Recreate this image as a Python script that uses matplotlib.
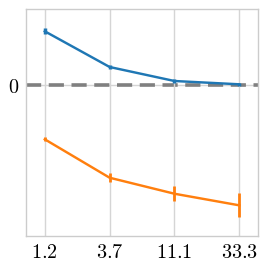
import numpy as np
import matplotlib
matplotlib.use("Agg")
import matplotlib.pyplot as plt

plt.rcParams['mathtext.fontset'] = 'cm'

ratios = [1.2, 3.7, 11.1, 33.3]
tick_labels = ['1.2', '3.7', '11.1', '33.3']
blue_vals = [0.537, 0.18, 0.04, 0.007]
blue_err = [0.028, 0.022, 0.017, 0.014]
orange_vals = [-0.543, -0.927, -1.087, -1.203]
orange_err = [0.02, 0.045, 0.075, 0.12]

fig = plt.figure(figsize=(2.68, 2.71), dpi=100)
ax = fig.add_axes([0.097, 0.129, 0.866, 0.836])

x = np.arange(len(ratios))

ax.grid(True, axis='x', color='#d5d5d5', linewidth=1.0, zorder=0)
ax.axhline(0, color='#d5d5d5', linewidth=1.0, zorder=0)
ax.axhline(0, color='#808080', linewidth=2.6, dashes=(4.2, 2.1), zorder=1)

ax.errorbar(x, blue_vals, yerr=blue_err, color='#1f77b4', linewidth=1.75,
            elinewidth=2.5, capsize=0, zorder=3)
ax.errorbar(x, orange_vals, yerr=orange_err, color='#ff7f0e', linewidth=1.75,
            elinewidth=2, capsize=0, zorder=3)

ax.set_xticks(x)
ax.set_xticklabels(['$%s$' % t for t in tick_labels], fontsize=14.5)
ax.set_yticks([0])
ax.set_yticklabels(['$0$'], fontsize=14.5)
ax.set_xlim(-0.29, 3.29)
ax.set_ylim(-1.51, 0.755)
ax.tick_params(length=0, pad=5)
for s in ax.spines.values():
    s.set_color('#cccccc')
    s.set_linewidth(1.0)

fig.savefig('out.png', dpi=100)
